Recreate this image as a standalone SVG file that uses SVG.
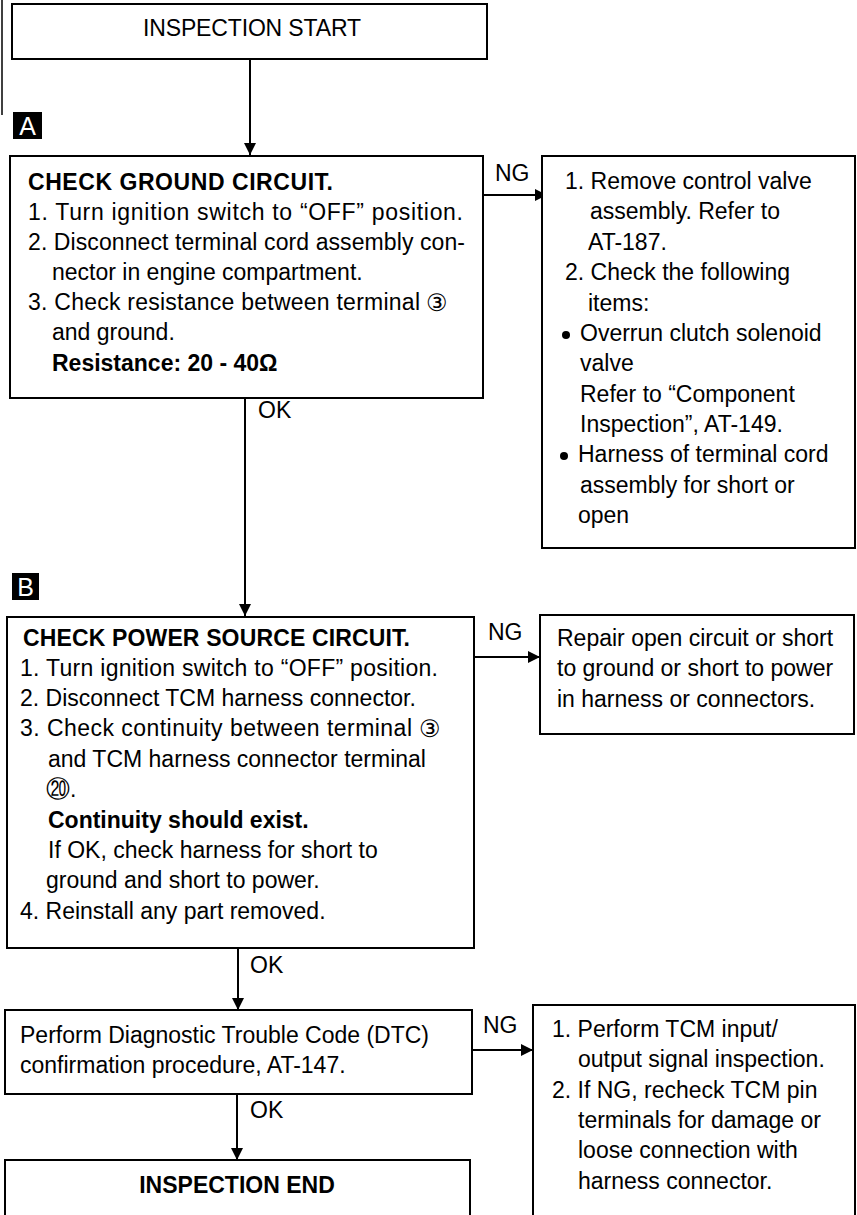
<svg xmlns="http://www.w3.org/2000/svg" width="857" height="1215" viewBox="0 0 857 1215">
<defs>
<style>
.box{fill:#fff;stroke:#000;stroke-width:2}
.t{font-family:"Liberation Sans",Arial,sans-serif;font-size:23px;fill:#000}
.b{font-weight:bold}
.c{font-family:"DejaVu Sans",sans-serif;font-size:24px;fill:#000}
.ln{stroke:#000;stroke-width:2;fill:none}
.lab{fill:#000}
.labt{font-family:"Liberation Sans",Arial,sans-serif;font-size:25px;fill:#fff}
</style>
<marker id="ah" viewBox="0 0 12 12" refX="12" refY="6" markerWidth="12" markerHeight="12" markerUnits="userSpaceOnUse" orient="auto">
<path d="M0,0 L12,6 L0,12 Z" fill="#000"/>
</marker>
</defs>
<rect width="857" height="1215" fill="#fff"/>
<line x1="2" y1="0" x2="2" y2="115" stroke="#000" stroke-width="1.5"/>

<g id="connectors">
<line class="ln" x1="250" y1="59" x2="250" y2="155" marker-end="url(#ah)"/>
<line class="ln" x1="483" y1="195" x2="547" y2="195" marker-end="url(#ah)"/>
<text class="t" x="495" y="181">NG</text>
<line class="ln" x1="245" y1="398" x2="245" y2="616" marker-end="url(#ah)"/>
<text class="t" x="258" y="418">OK</text>
<line class="ln" x1="474" y1="657" x2="540" y2="657" marker-end="url(#ah)"/>
<text class="t" x="488" y="640">NG</text>
<line class="ln" x1="238" y1="948" x2="238" y2="1010" marker-end="url(#ah)"/>
<text class="t" x="250" y="973">OK</text>
<line class="ln" x1="472" y1="1050" x2="533" y2="1050" marker-end="url(#ah)"/>
<text class="t" x="483" y="1033">NG</text>
<line class="ln" x1="237" y1="1094" x2="237" y2="1160" marker-end="url(#ah)"/>
<text class="t" x="250" y="1118">OK</text>
</g>

<g id="start">
<rect class="box" x="12" y="4" width="475" height="55"/>
<text class="t" x="143" y="36" textLength="218">INSPECTION START</text>
</g>

<g id="labelA">
<rect class="lab" x="13" y="112" width="29" height="27"/>
<text class="labt" x="27.5" y="135" text-anchor="middle">A</text>
</g>

<g id="checkGround">
<rect class="box" x="10" y="156" width="473" height="242"/>
<text class="t b" x="28" y="190" textLength="305">CHECK GROUND CIRCUIT.</text>
<text class="t" x="28" y="220" textLength="435">1. Turn ignition switch to “OFF” position.</text>
<text class="t" x="28" y="250" textLength="437">2. Disconnect terminal cord assembly con-</text>
<text class="t" x="52" y="280">nector in engine compartment.</text>
<text class="t" x="28" y="310" textLength="392">3. Check resistance between terminal</text>
<text class="c" x="426" y="311">③</text>
<text class="t" x="52" y="340">and ground.</text>
<text class="t b" x="52" y="371">Resistance: 20 - 40Ω</text>
</g>

<g id="removeValve">
<rect class="box" x="542" y="156" width="313" height="392"/>
<text class="t" x="565" y="189">1. Remove control valve</text>
<text class="t" x="590" y="219">assembly. Refer to</text>
<text class="t" x="588" y="250">AT-187.</text>
<text class="t" x="565" y="280">2. Check the following</text>
<text class="t" x="588" y="311">items:</text>
<circle cx="566" cy="335" r="4" fill="#000"/>
<text class="t" x="580" y="341">Overrun clutch solenoid</text>
<text class="t" x="580" y="371">valve</text>
<text class="t" x="580" y="402">Refer to “Component</text>
<text class="t" x="580" y="432">Inspection”, AT-149.</text>
<circle cx="564" cy="456" r="4" fill="#000"/>
<text class="t" x="578" y="462">Harness of terminal cord</text>
<text class="t" x="580" y="493">assembly for short or</text>
<text class="t" x="578" y="523">open</text>
</g>

<g id="labelB">
<rect class="lab" x="12" y="573" width="27" height="27"/>
<text class="labt" x="25.5" y="596" text-anchor="middle">B</text>
</g>

<g id="checkPower">
<rect class="box" x="7" y="617" width="467" height="331"/>
<text class="t b" x="23" y="646" textLength="387">CHECK POWER SOURCE CIRCUIT.</text>
<text class="t" x="20" y="676" textLength="418">1. Turn ignition switch to “OFF” position.</text>
<text class="t" x="20" y="706">2. Disconnect TCM harness connector.</text>
<text class="t" x="20" y="736" textLength="392">3. Check continuity between terminal</text>
<text class="c" x="419" y="737">③</text>
<text class="c" x="46" y="797">⑳<tspan class="t">.</tspan></text>
<text class="t" x="48" y="767">and TCM harness connector terminal</text>
<text class="t b" x="48" y="828">Continuity should exist.</text>
<text class="t" x="48" y="858">If OK, check harness for short to</text>
<text class="t" x="46" y="888">ground and short to power.</text>
<text class="t" x="20" y="919">4. Reinstall any part removed.</text>
</g>

<g id="repair">
<rect class="box" x="540" y="615" width="314" height="119"/>
<text class="t" x="557" y="646">Repair open circuit or short</text>
<text class="t" x="557" y="676">to ground or short to power</text>
<text class="t" x="557" y="707">in harness or connectors.</text>
</g>

<g id="dtc">
<rect class="box" x="5" y="1010" width="467" height="84"/>
<text class="t" x="20" y="1043">Perform Diagnostic Trouble Code (DTC)</text>
<text class="t" x="20" y="1073">confirmation procedure, AT-147.</text>
</g>

<g id="tcmInspect">
<rect class="box" x="533" y="1005" width="322" height="215"/>
<text class="t" x="552" y="1037">1. Perform TCM input/</text>
<text class="t" x="578" y="1067">output signal inspection.</text>
<text class="t" x="552" y="1098">2. If NG, recheck TCM pin</text>
<text class="t" x="578" y="1128">terminals for damage or</text>
<text class="t" x="578" y="1158">loose connection with</text>
<text class="t" x="578" y="1189">harness connector.</text>
</g>

<g id="end">
<rect class="box" x="5" y="1160" width="465" height="60"/>
<text class="t b" x="237" y="1193" text-anchor="middle">INSPECTION END</text>
</g>
</svg>
